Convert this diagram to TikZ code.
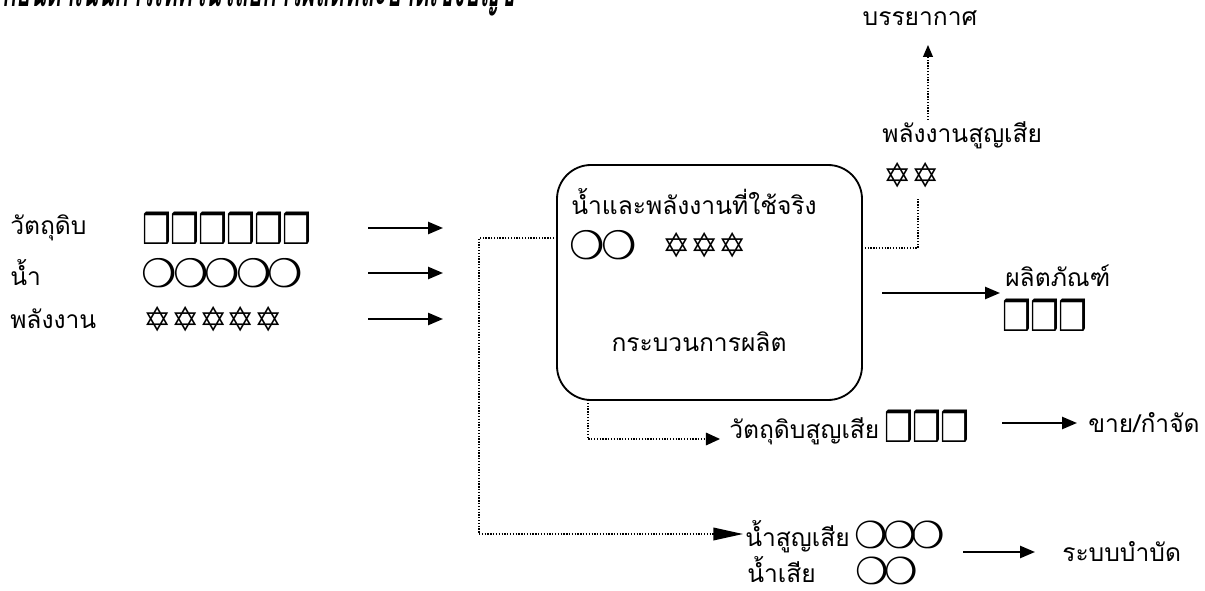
\documentclass[tikz,border=0pt]{standalone}
\usepackage{fontspec}
\setmainfont[Script=Thai]{Loma}
\newfontfamily\symf{DejaVu Sans}
\usetikzlibrary{arrows.meta}
\newcommand\SQ{\makebox[19.9pt][c]{\scalebox{0.85}[1.1]{\fontsize{27}{27}\symf ❒}}}
\newcommand\CI{\makebox[22.5pt][c]{\fontsize{28}{28}\symf ❍}}
\newcommand\CIs{\makebox[20.6pt][c]{\fontsize{26.5}{26.5}\symf ❍}}
\newcommand\ST{\makebox[19.6pt][c]{\fontsize{24}{24}\symf ✡}}
\tikzset{
  th/.style={inner sep=0pt, font=\fontsize{17.5}{20}\selectfont},
  sym/.style={inner sep=0pt},
  solidarrow/.style={line width=1.4pt, -{Triangle[length=10.5pt,width=8.5pt]}},
  dotline/.style={line width=0.9pt, dash pattern=on 0.9pt off 1.1pt},
  proc/.style={draw, line width=1.3pt, rounded corners=0.85cm}
}
\begin{document}
\begin{tikzpicture}[x=0.025cm, y=-0.025cm]
\useasboundingbox (0,0) rectangle (1205,591);
% title (cut off at the top)
\node[inner sep=0pt, anchor=base west, font=\fontsize{21}{22}\selectfont\bfseries\itshape] (title) at (2,7) {\scalebox{0.79}[1.6]{ก่อนดำเนินการเทคโนโลยีการผลิตที่สะอาดเชิงบัญชี}};
% process box
\draw[proc] (557,165) rectangle (862,400);
\coordinate (boxL) at (557,238);
\coordinate (boxR) at (862,248);
\coordinate (boxB) at (588,400);
\node[th, anchor=west] (used) at (571,202) {น้ำและพลังงานที่ใช้จริง};
\node[sym, anchor=west] (usedw) at (571,245) {\CI\CI};
\node[sym, anchor=west] (usede) at (663,245) {\ST\ST\ST};
\node[th] (proc) at (699,342) {กระบวนการผลิต};
% inputs
\node[th, anchor=west] (raw) at (10,228) {วัตถุดิบ};
\node[th, anchor=west] (water) at (10,273) {น้ำ};
\node[th, anchor=west] (energy) at (10,319) {พลังงาน};
\node[sym, anchor=west] (raws) at (143,228) {\SQ\SQ\SQ\SQ\SQ\SQ};
\node[sym, anchor=west] (waters) at (143,273) {\CI\CI\CI\CI\CI};
\node[sym, anchor=west] (energys) at (144,319) {\ST\ST\ST\ST\ST};
\coordinate (a1s) at (368,228); \coordinate (a1e) at (443,228);
\coordinate (a2s) at (368,273); \coordinate (a2e) at (443,273);
\coordinate (a3s) at (368,319); \coordinate (a3e) at (443,319);
\draw[solidarrow] (a1s) -- (a1e);
\draw[solidarrow] (a2s) -- (a2e);
\draw[solidarrow] (a3s) -- (a3e);
% energy loss / atmosphere
\node[th] (atm) at (920,18) {บรรยากาศ};
\node[th, anchor=west] (eloss) at (882,135) {พลังงานสูญเสีย};
\node[sym, anchor=west] (elosss) at (884,175) {\ST\ST};
\coordinate (upS) at (928,120);
\coordinate (upT) at (928,45);
\draw[dotline, -{Triangle[length=8.5pt,width=7pt]}] (upS) -- (upT);
\coordinate (rj) at (918,248);
\coordinate (rt) at (918,199);
\draw[dotline] (boxR) -- (rj) -- (rt);
% product
\coordinate (pS) at (882,293);
\coordinate (pE) at (1000,293);
\draw[solidarrow] (pS) -- (pE);
\node[th, anchor=west] (prod) at (1005,276) {ผลิตภัณฑ์};
\node[sym, anchor=west] (prods) at (1003,315) {\SQ\SQ\SQ};
% raw material loss
\coordinate (bj) at (588,439);
\coordinate (bt) at (720,439);
\draw[dotline, -{Triangle[length=10pt,width=9pt]}] (boxB) -- (bj) -- (bt);
\node[th, anchor=base west] (rloss) at (729,438) {วัตถุดิบสูญเสีย};
\node[sym, anchor=west] (rlosss) at (885,426) {\SQ\SQ\SQ};
\coordinate (sS) at (1002,423);
\coordinate (sE) at (1077,423);
\draw[solidarrow] (sS) -- (sE);
\node[th, anchor=west] (sell) at (1088,423) {ขาย/กำจัด};
% water loss
\coordinate (lj1) at (479,238);
\coordinate (lj2) at (479,534);
\coordinate (lt) at (743,534);
\draw[dotline, -{Triangle[length=21pt,width=9pt]}] (boxL) -- (lj1) -- (lj2) -- (lt);
\node[th, anchor=base west] (wloss) at (745,546) {น้ำสูญเสีย};
\node[sym, anchor=west] (wlosss) at (856,535) {\CIs\CIs\CIs};
\node[th, anchor=base west] (ww) at (747,582) {น้ำเสีย};
\node[sym, anchor=west] (wws) at (857,571) {\CIs\CIs};
\coordinate (tS) at (963,552);
\coordinate (tE) at (1035,552);
\draw[solidarrow] (tS) -- (tE);
\node[th, anchor=west] (treat) at (1062,552) {ระบบบำบัด};
\end{tikzpicture}
\end{document}
